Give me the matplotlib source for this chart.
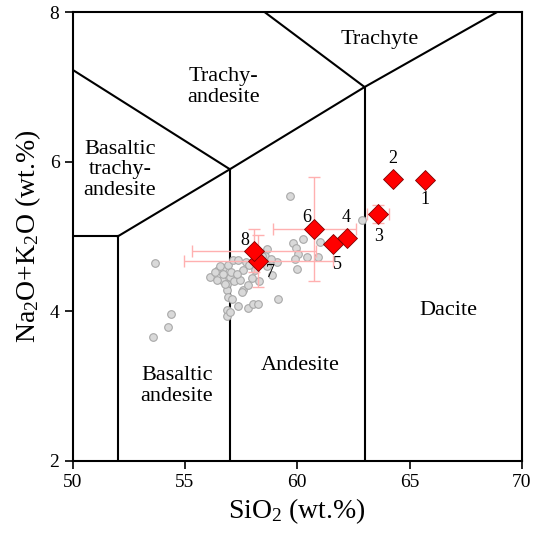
import matplotlib
matplotlib.use("Agg")
import matplotlib.pyplot as plt

plt.rcParams["font.family"] = ["Liberation Serif", "DejaVu Serif"]
plt.rcParams["mathtext.fontset"] = "custom"
plt.rcParams["mathtext.rm"] = "Liberation Serif"
plt.rcParams["mathtext.it"] = "Liberation Serif:italic"

# grey background samples (SiO2, Na2O+K2O)
grey_x = [59.67, 53.67, 54.36, 54.26, 53.59, 62.87, 60.24, 59.80, 59.94, 61.01,
          60.05, 60.42, 59.90, 60.94, 60.00, 59.15, 58.64, 59.08, 58.86, 56.11,
          56.48, 56.70, 56.90, 57.15, 57.37, 57.70, 57.60, 57.85, 58.10, 57.00,
          56.63, 56.86, 57.20, 57.45, 57.60, 56.86, 56.93, 56.86, 56.86, 57.37,
          57.82, 58.04, 58.27, 57.00, 58.55, 58.85, 58.65, 58.41, 56.41, 56.78,
          57.52, 56.70, 56.55, 57.05, 57.30, 58.30, 57.10, 58.00, 56.35, 57.80]
grey_y = [5.54, 4.64, 3.96, 3.79, 3.66, 5.22, 4.97, 4.91, 4.84, 4.93,
          4.77, 4.73, 4.70, 4.73, 4.56, 4.17, 4.83, 4.66, 4.48, 4.46,
          4.55, 4.58, 4.62, 4.68, 4.68, 4.66, 4.55, 4.62, 4.55, 4.46,
          4.42, 4.37, 4.40, 4.42, 4.28, 4.28, 4.19, 4.01, 3.93, 4.07,
          4.04, 4.10, 4.10, 3.99, 4.74, 4.70, 4.60, 4.74, 4.42, 4.37,
          4.26, 4.50, 4.60, 4.52, 4.50, 4.40, 4.16, 4.45, 4.52, 4.35]

# studied samples
sample_id = ["1", "2", "3", "4", "5", "6", "7", "8"]
sample_x = [65.69, 64.25, 63.61, 62.20, 61.58, 60.76, 58.27, 58.07]
sample_y = [5.76, 5.77, 5.30, 4.98, 4.90, 5.10, 4.67, 4.81]
sample_xerr = [0, 0, 0.49, 0, 0, 1.86, 3.32, 2.75]
sample_yerr = [0, 0, 0.12, 0, 0, 0.69, 0.35, 0.29]
label_x = [65.69, 64.25, 63.61, 62.18, 61.78, 60.43, 58.80, 57.67]
label_y = [5.49, 6.05, 5.00, 5.26, 4.62, 5.25, 4.52, 4.94]

# TAS field boundaries
boundaries = [
    ([50, 57], [7.23, 5.9]),
    ([50, 52], [5.0, 5.0]),
    ([52, 52], [2, 5.0]),
    ([52, 57, 63, 68.88], [5.0, 5.9, 7.0, 8.0]),
    ([57, 57], [2, 5.9]),
    ([63, 63], [2, 7.0]),
    ([58.56, 63], [8.0, 7.0]),
]
field_names = ["Trachyte", "Trachy-\nandesite", "Basaltic\ntrachy-\nandesite",
               "Basaltic\nandesite", "Andesite", "Dacite"]
field_x = [63.68, 56.73, 52.10, 54.63, 60.13, 66.72]
field_y = [7.63, 7.00, 5.89, 3.00, 3.28, 4.01]

fig = plt.figure(figsize=(5.44, 5.35), dpi=100)
ax = fig.add_axes([0.1336, 0.1389, 0.8256, 0.8381])

for bx, by in boundaries:
    ax.plot(bx, by, color="black", lw=1.5, zorder=2)

for name, fx, fy in zip(field_names, field_x, field_y):
    ax.text(fx, fy, name, ha="center", va="center", fontsize=16,
            linespacing=1.1, zorder=3)

ax.plot(grey_x, grey_y, "o", ms=5.5, mfc="#d9d9d9", mec="#a8a8a8",
        mew=0.8, zorder=3)

for i in range(len(sample_x)):
    if sample_xerr[i] > 0:
        ax.errorbar(sample_x[i], sample_y[i], xerr=sample_xerr[i],
                    yerr=sample_yerr[i], fmt="none", ecolor="#ffb0b0",
                    elinewidth=1.0, capsize=4, capthick=1.0, zorder=4)

ax.plot(sample_x, sample_y, "D", ms=10, mfc="red", mec="#800000",
        mew=0.6, zorder=5)
for s, lx, ly in zip(sample_id, label_x, label_y):
    ax.text(lx, ly, s, ha="center", va="center", fontsize=13, zorder=6)

ax.set_xlim(50, 70)
ax.set_ylim(2, 8)
ax.set_xticks([50, 55, 60, 65, 70])
ax.set_yticks([2, 4, 6, 8])
ax.tick_params(direction="out", length=6, width=1.2, labelsize=14,
               top=False, right=False)
for sp in ax.spines.values():
    sp.set_linewidth(1.5)

ax.set_xlabel(r"SiO$_2$ (wt.%)", fontsize=20, labelpad=4)
ax.set_ylabel(r"Na$_2$O+K$_2$O (wt.%)", fontsize=20, labelpad=5)

fig.savefig("out.png", dpi=100)
